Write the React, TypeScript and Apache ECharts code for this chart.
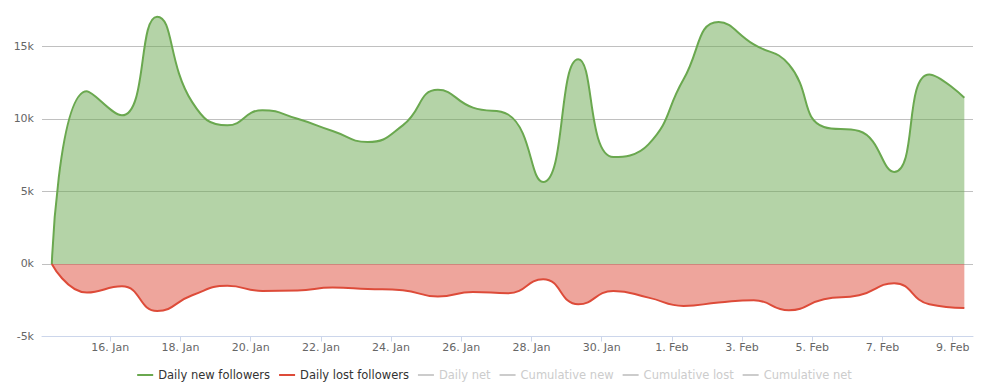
import React, { useEffect, useRef } from "react";
import * as echarts from "echarts";

// One point per day, posted at ~08:00 (day index + 1/3)
const dates = [
  "14 Jan", "15 Jan", "16 Jan", "17 Jan", "18 Jan", "19 Jan", "20 Jan", "21 Jan", "22 Jan",
  "23 Jan", "24 Jan", "25 Jan", "26 Jan", "27 Jan", "28 Jan", "29 Jan", "30 Jan", "31 Jan",
  "1 Feb", "2 Feb", "3 Feb", "4 Feb", "5 Feb", "6 Feb", "7 Feb", "8 Feb", "9 Feb",
];

const dailyNew = [
  0, 11900, 10240, 17040, 11150, 9550, 10600, 10000, 9160,
  8400, 9550, 12000, 10770, 10300, 5650, 14100, 7370, 8240,
  12720, 16670, 15130, 13750, 9440, 9160, 6340, 13060, 11460,
];

const dailyLost = [
  0, -1970, -1540, -3240, -2160, -1510, -1860, -1830, -1630,
  -1720, -1810, -2250, -1930, -2020, -1050, -2780, -1860, -2320,
  -2890, -2660, -2500, -3190, -2430, -2160, -1330, -2780, -3030,
];

const tickDays = [2, 4, 6, 8, 10, 12, 14, 16, 18, 20, 22, 24, 26];
const tickLabels = [
  "16. Jan", "18. Jan", "20. Jan", "22. Jan", "24. Jan", "26. Jan", "28. Jan",
  "30. Jan", "1. Feb", "3. Feb", "5. Feb", "7. Feb", "9. Feb",
];

const hiddenSeries = ["Daily net", "Cumulative new", "Cumulative lost", "Cumulative net"];

const FONT = "'DejaVu Sans', 'Lucida Grande', Arial, sans-serif";

export default function App() {
  const ref = useRef<HTMLDivElement>(null);

  useEffect(() => {
    if (!ref.current) return;
    const chart = echarts.init(ref.current, undefined, { renderer: "svg" });
    const toXY = (arr: number[]) => arr.map((v, i) => [i + 1 / 3, v]);
    const selected: Record<string, boolean> = {};
    hiddenSeries.forEach((n) => (selected[n] = false));

    chart.setOption({
      animation: false,
      textStyle: { fontFamily: FONT },
      grid: { left: 42, right: 16, top: 10, bottom: 55.5, containLabel: false },
      legend: {
        top: 364,
        left: "center",
        icon: "path://M0,0L16,0L16,2L0,2Z",
        itemWidth: 16,
        itemHeight: 2,
        itemGap: 9,
        selected,
        inactiveColor: "#cccccc",
        textStyle: { color: "#333333", fontSize: 11.5, fontFamily: FONT },
        data: ["Daily new followers", "Daily lost followers", ...hiddenSeries],
      },
      xAxis: {
        type: "value",
        min: 0.054,
        max: 26.58,
        axisLine: { show: true, onZero: false, lineStyle: { color: "#ccd6eb", width: 1 } },
        axisTick: {
          show: true,
          length: 5,
          customValues: tickDays,
          lineStyle: { color: "#ccd6eb" },
        },
        axisLabel: {
          customValues: tickDays,
          margin: 5,
          color: "#666666",
          fontSize: 11,
          fontFamily: FONT,
          formatter: (v: number) => {
            const k = tickDays.indexOf(Math.round(v));
            return k >= 0 ? tickLabels[k] : "";
          },
        },
        splitLine: { show: false },
      },
      yAxis: {
        type: "value",
        min: -5000,
        max: 17500,
        interval: 5000,
        axisLine: { show: false },
        axisTick: { show: false },
        axisLabel: {
          margin: 8,
          color: "#666666",
          fontSize: 11,
          fontFamily: FONT,
          showMaxLabel: false,
          formatter: (v: number) => (v % 5000 === 0 ? v / 1000 + "k" : ""),
        },
        splitLine: {
          show: true,
          showMaxLine: false,
          showMinLine: false,
          lineStyle: { color: "#c0c0c0", width: 1 },
        },
      },
      series: [
        {
          name: "Daily new followers",
          type: "line",
          data: toXY(dailyNew),
          smooth: 0.5,
          showSymbol: false,
          symbol: "none",
          color: "#6aa84f",
          lineStyle: { color: "#6aa84f", width: 2 },
          areaStyle: { color: "#6aa84f", opacity: 0.5 },
          z: 3,
        },
        {
          name: "Daily lost followers",
          type: "line",
          data: toXY(dailyLost),
          smooth: 0.5,
          showSymbol: false,
          symbol: "none",
          color: "#dd4b39",
          lineStyle: { color: "#dd4b39", width: 2 },
          areaStyle: { color: "#dd4b39", opacity: 0.5 },
          z: 3,
        },
        ...hiddenSeries.map((n) => ({
          name: n,
          type: "line",
          data: [],
          showSymbol: false,
          color: "#999999",
        })),
      ],
    });
    return () => chart.dispose();
  }, []);

  return <div ref={ref} style={{ width: 989, height: 392, position: "absolute", left: 0, top: 0 }} />;
}
